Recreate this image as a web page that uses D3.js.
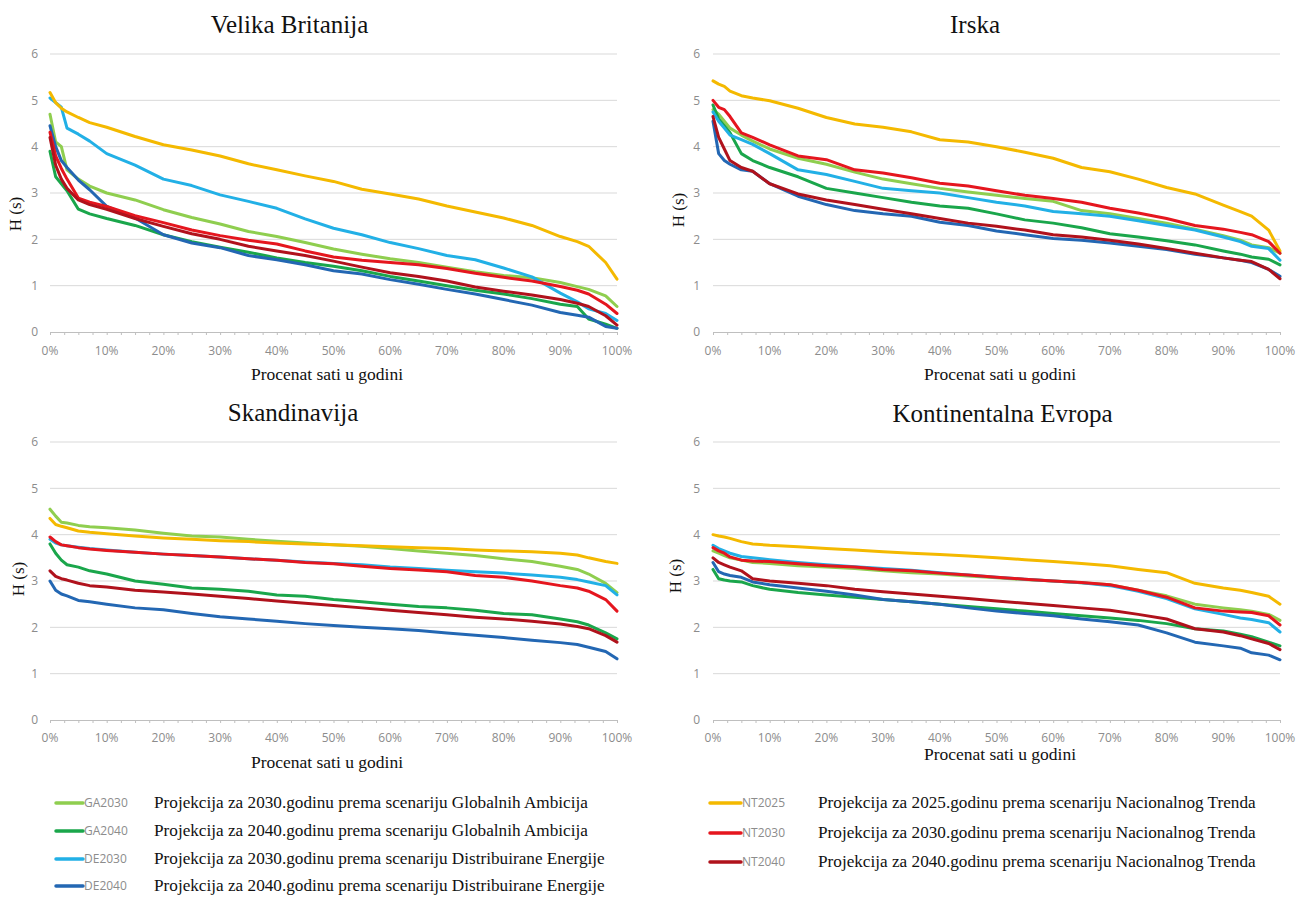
<!DOCTYPE html>
<html>
<head>
<meta charset="utf-8">
<script src="https://cdn.jsdelivr.net/npm/d3@7/dist/d3.min.js"></script>
<style>
  html, body { margin: 0; padding: 0; background: #ffffff; }
  svg { display: block; }
</style>
</head>
<body>
<svg id="chart" width="1297" height="897"></svg>
<script>
// ---------------- DATA ----------------
const xPct = [0,1,2,3,5,7,10,15,20,25,30,35,40,45,50,55,60,65,70,75,80,85,90,93,95,98,100];
const seriesNames = ["GA2030","GA2040","DE2030","DE2040","NT2025","NT2030","NT2040"];
const seriesDescriptions = [
  "Projekcija za 2030.godinu prema scenariju Globalnih Ambicija",
  "Projekcija za 2040.godinu prema scenariju Globalnih Ambicija",
  "Projekcija za 2030.godinu prema scenariju Distribuirane Energije",
  "Projekcija za 2040.godinu prema scenariju Distribuirane Energije",
  "Projekcija za 2025.godinu prema scenariju Nacionalnog Trenda",
  "Projekcija za 2030.godinu prema scenariju Nacionalnog Trenda",
  "Projekcija za 2040.godinu prema scenariju Nacionalnog Trenda"
];
const panelTitles = ["Velika Britanija","Irska","Skandinavija","Kontinentalna Evropa"];
const yTickValues = [0,1,2,3,4,5,6];
const xTickValues = [0,10,20,30,40,50,60,70,80,90,100];
const xAxisTitle = "Procenat sati u godini";
const yAxisTitle = "H (s)";

// Velika Britanija
const vbGA2030 = [4.7,4.1,4.0,3.5,3.3,3.15,3.0,2.85,2.64,2.47,2.33,2.17,2.06,1.93,1.79,1.68,1.58,1.5,1.4,1.3,1.22,1.17,1.07,0.98,0.92,0.78,0.55];
const vbGA2040 = [3.9,3.35,3.2,3.05,2.65,2.55,2.45,2.3,2.1,1.95,1.83,1.72,1.6,1.5,1.42,1.32,1.2,1.1,1.0,0.9,0.82,0.72,0.6,0.55,0.28,0.17,0.08];
const vbDE2030 = [5.05,4.95,4.85,4.4,4.27,4.12,3.85,3.6,3.3,3.16,2.96,2.82,2.67,2.44,2.24,2.1,1.93,1.8,1.65,1.56,1.38,1.19,0.84,0.65,0.5,0.4,0.25];
const vbDE2040 = [4.45,4.0,3.7,3.55,3.28,3.07,2.71,2.46,2.1,1.92,1.82,1.65,1.56,1.45,1.32,1.25,1.13,1.03,0.92,0.82,0.7,0.58,0.42,0.36,0.32,0.12,0.08];
const vbNT2025 = [5.17,4.95,4.83,4.75,4.63,4.52,4.42,4.22,4.04,3.93,3.8,3.63,3.5,3.37,3.25,3.08,2.98,2.87,2.72,2.59,2.46,2.3,2.06,1.95,1.85,1.5,1.14];
const vbNT2030 = [4.31,3.8,3.53,3.3,2.89,2.8,2.71,2.51,2.36,2.2,2.08,1.98,1.9,1.75,1.62,1.55,1.5,1.45,1.37,1.27,1.18,1.1,0.98,0.9,0.82,0.6,0.4];
const vbNT2040 = [4.2,3.6,3.3,3.1,2.85,2.75,2.65,2.45,2.28,2.12,2.0,1.85,1.75,1.65,1.53,1.4,1.28,1.2,1.1,0.97,0.88,0.8,0.7,0.62,0.55,0.35,0.15];

// Irska
const irGA2030 = [4.8,4.7,4.55,4.4,4.25,4.12,3.95,3.75,3.62,3.45,3.3,3.2,3.1,3.02,2.95,2.88,2.82,2.62,2.55,2.45,2.35,2.22,2.08,1.98,1.88,1.82,1.7];
const irGA2040 = [4.9,4.6,4.45,4.3,3.85,3.7,3.55,3.35,3.1,3.0,2.9,2.8,2.72,2.67,2.55,2.42,2.35,2.25,2.12,2.05,1.97,1.88,1.75,1.68,1.62,1.57,1.45];
const irDE2030 = [4.75,4.55,4.4,4.25,4.15,4.05,3.85,3.5,3.4,3.25,3.1,3.05,3.0,2.9,2.8,2.72,2.6,2.55,2.5,2.4,2.3,2.2,2.05,1.95,1.85,1.8,1.55];
const irDE2040 = [4.55,3.85,3.7,3.62,3.5,3.47,3.2,2.93,2.75,2.62,2.55,2.5,2.37,2.3,2.18,2.1,2.02,1.98,1.92,1.85,1.78,1.68,1.6,1.55,1.5,1.35,1.2];
const irNT2025 = [5.42,5.35,5.3,5.2,5.1,5.05,4.99,4.83,4.63,4.49,4.42,4.32,4.15,4.1,4.0,3.88,3.75,3.55,3.46,3.3,3.12,2.98,2.74,2.6,2.5,2.2,1.75];
const irNT2030 = [5.0,4.85,4.8,4.65,4.3,4.2,4.04,3.8,3.72,3.5,3.43,3.33,3.21,3.15,3.05,2.95,2.88,2.8,2.67,2.57,2.45,2.3,2.22,2.15,2.1,1.95,1.7];
const irNT2040 = [4.65,4.2,3.95,3.7,3.55,3.47,3.2,2.98,2.85,2.75,2.65,2.55,2.45,2.35,2.28,2.2,2.1,2.05,1.98,1.9,1.8,1.7,1.6,1.55,1.52,1.35,1.15];

// Skandinavija
const skGA2030 = [4.55,4.4,4.27,4.25,4.2,4.17,4.15,4.1,4.03,3.97,3.95,3.9,3.86,3.82,3.78,3.75,3.7,3.65,3.6,3.55,3.48,3.42,3.32,3.25,3.15,2.95,2.75];
const skGA2040 = [3.8,3.6,3.45,3.35,3.3,3.22,3.15,3.0,2.93,2.85,2.82,2.78,2.7,2.67,2.6,2.55,2.5,2.45,2.42,2.37,2.3,2.27,2.18,2.12,2.05,1.88,1.75];
const skDE2030 = [3.9,3.82,3.78,3.76,3.73,3.7,3.67,3.62,3.58,3.55,3.52,3.48,3.45,3.41,3.38,3.35,3.3,3.27,3.23,3.2,3.17,3.13,3.08,3.03,2.98,2.9,2.7];
const skDE2040 = [3.0,2.8,2.72,2.68,2.58,2.55,2.5,2.42,2.38,2.3,2.23,2.18,2.13,2.08,2.04,2.0,1.97,1.93,1.88,1.83,1.78,1.72,1.67,1.63,1.57,1.48,1.32];
const skNT2025 = [4.35,4.22,4.18,4.15,4.08,4.05,4.02,3.97,3.93,3.9,3.87,3.85,3.82,3.8,3.78,3.76,3.74,3.72,3.7,3.67,3.65,3.63,3.6,3.56,3.5,3.42,3.38];
const skNT2030 = [3.95,3.85,3.78,3.76,3.72,3.69,3.66,3.62,3.58,3.55,3.52,3.48,3.45,3.4,3.37,3.32,3.27,3.24,3.2,3.12,3.08,3.0,2.9,2.85,2.78,2.6,2.35];
const skNT2040 = [3.22,3.1,3.05,3.02,2.95,2.9,2.87,2.8,2.76,2.72,2.67,2.62,2.57,2.52,2.47,2.42,2.37,2.32,2.27,2.22,2.18,2.13,2.07,2.02,1.97,1.82,1.68];

// Kontinentalna Evropa
const keGA2030 = [3.65,3.6,3.55,3.5,3.45,3.4,3.38,3.33,3.3,3.27,3.22,3.18,3.15,3.11,3.07,3.03,3.0,2.96,2.92,2.8,2.68,2.5,2.42,2.38,2.35,2.28,2.15];
const keGA2040 = [3.25,3.05,3.02,3.0,2.98,2.9,2.82,2.75,2.7,2.65,2.6,2.55,2.5,2.45,2.4,2.35,2.3,2.25,2.2,2.15,2.08,1.97,1.92,1.85,1.8,1.68,1.6];
const keDE2030 = [3.77,3.7,3.65,3.6,3.53,3.5,3.46,3.4,3.35,3.31,3.27,3.23,3.18,3.13,3.08,3.04,3.0,2.96,2.9,2.78,2.62,2.4,2.28,2.2,2.17,2.1,1.9];
const keDE2040 = [3.4,3.2,3.15,3.12,3.08,2.98,2.92,2.85,2.78,2.7,2.6,2.55,2.5,2.42,2.35,2.3,2.25,2.18,2.12,2.05,1.88,1.68,1.6,1.55,1.45,1.4,1.3];
const keNT2025 = [4.0,3.97,3.95,3.92,3.85,3.8,3.77,3.74,3.7,3.67,3.63,3.6,3.57,3.54,3.5,3.46,3.42,3.38,3.33,3.25,3.18,2.95,2.85,2.8,2.75,2.67,2.5];
const keNT2030 = [3.72,3.65,3.6,3.52,3.45,3.43,3.42,3.37,3.33,3.3,3.25,3.22,3.17,3.13,3.08,3.04,3.0,2.97,2.92,2.8,2.65,2.42,2.35,2.33,2.32,2.25,2.05];
const keNT2040 = [3.5,3.4,3.35,3.3,3.22,3.05,3.0,2.95,2.9,2.82,2.77,2.72,2.67,2.62,2.57,2.52,2.47,2.42,2.37,2.28,2.18,1.97,1.9,1.82,1.75,1.65,1.52];

// ---------------- STYLE / LAYOUT ----------------
const seriesColors = {
  GA2030: "#8fce4f", GA2040: "#1aa64b", DE2030: "#22b0e6", DE2040: "#2367b3",
  NT2025: "#f4b900", NT2030: "#e5161e", NT2040: "#b0121c"
};
const panelValues = [
  [vbGA2030,vbGA2040,vbDE2030,vbDE2040,vbNT2025,vbNT2030,vbNT2040],
  [irGA2030,irGA2040,irDE2030,irDE2040,irNT2025,irNT2030,irNT2040],
  [skGA2030,skGA2040,skDE2030,skDE2040,skNT2025,skNT2030,skNT2040],
  [keGA2030,keGA2040,keDE2030,keDE2040,keNT2025,keNT2030,keNT2040]
];
const layout = [
  {left:50, right:617, top:54, bottom:332, tx:289.5, ty:33, xtx:327, xty:380, ytx:15, yty:214, ytickX:38, xtickY:355},
  {left:713, right:1280, top:54, bottom:332, tx:975, ty:33, xtx:1000, xty:380, ytx:678, yty:210, ytickX:700, xtickY:355},
  {left:50, right:617, top:442, bottom:720, tx:293, ty:421, xtx:327, xty:768, ytx:18, yty:579, ytickX:38, xtickY:742},
  {left:713, right:1280, top:442, bottom:720, tx:1002.5, ty:422, xtx:1000, xty:760, ytx:675, yty:576, ytickX:700, xtickY:742}
];

const svg = d3.select("#chart");
const serif = "'Liberation Serif', 'Times New Roman', serif";
const sans = "'Open Sans', 'Liberation Sans', sans-serif";

layout.forEach((L, pi) => {
  const g = svg.append("g");
  const x = d3.scaleLinear().domain([0,100]).range([L.left, L.right]);
  const y = d3.scaleLinear().domain([0,6]).range([L.bottom, L.top]);

  // gridlines
  g.selectAll(".grid").data(yTickValues.filter(v => v > 0)).enter().append("line")
    .attr("x1", L.left).attr("x2", L.right)
    .attr("y1", d => y(d)).attr("y2", d => y(d))
    .attr("stroke", "#d9d9d9").attr("stroke-width", 1);

  // x axis with minor ticks
  const ax = g.append("g").attr("transform", `translate(0,${y(0)})`)
    .call(d3.axisBottom(x).tickValues(d3.range(0, 100.01, 2.5)).tickSize(3).tickSizeOuter(0).tickFormat(""));
  ax.select(".domain").attr("stroke", "#bfbfbf");
  ax.selectAll(".tick line").attr("stroke", "#bfbfbf");

  // x tick labels
  g.selectAll(".xl").data(xTickValues).enter().append("text")
    .attr("x", d => x(d)).attr("y", L.xtickY)
    .attr("text-anchor", "middle")
    .attr("font-family", sans).attr("font-size", 12).attr("fill", "#8c8c8c")
    .text(d => d + "%");

  // y tick labels
  g.selectAll(".yl").data(yTickValues).enter().append("text")
    .attr("x", L.ytickX).attr("y", d => y(d)).attr("dy", "0.36em")
    .attr("text-anchor", "end")
    .attr("font-family", sans).attr("font-size", 12).attr("fill", "#8c8c8c")
    .text(d => d);

  // series lines
  const line = d3.line().x((d, i) => x(xPct[i])).y(d => y(d)).curve(d3.curveLinear);
  panelValues[pi].forEach((vals, si) => {
    g.append("path").datum(vals)
      .attr("d", line)
      .attr("fill", "none")
      .attr("stroke", seriesColors[seriesNames[si]])
      .attr("stroke-width", 3)
      .attr("stroke-linejoin", "round")
      .attr("stroke-linecap", "round");
  });

  // titles
  g.append("text").attr("x", L.tx).attr("y", L.ty).attr("text-anchor", "middle")
    .attr("font-family", serif).attr("font-size", 25).attr("fill", "#111")
    .text(panelTitles[pi]);
  g.append("text").attr("x", L.xtx).attr("y", L.xty).attr("text-anchor", "middle")
    .attr("font-family", serif).attr("font-size", 17.5).attr("fill", "#111")
    .text(xAxisTitle);
  g.append("text")
    .attr("transform", `translate(${L.ytx},${L.yty}) rotate(-90)`)
    .attr("text-anchor", "middle").attr("dy", "0.35em")
    .attr("font-family", serif).attr("font-size", 17).attr("fill", "#111")
    .text(yAxisTitle);
});

// ---------------- LEGENDS ----------------
const legendLeftRows = [803, 831, 859, 886];
const legendRightRows = [803, 833, 862];
function legendRow(idx, yPos, lx1, lx2, codeX, descX) {
  const name = seriesNames[idx];
  svg.append("line").attr("x1", lx1).attr("x2", lx2).attr("y1", yPos).attr("y2", yPos)
    .attr("stroke", seriesColors[name]).attr("stroke-width", 3.5).attr("stroke-linecap", "round");
  svg.append("text").attr("x", codeX).attr("y", yPos).attr("dy", "0.36em")
    .attr("font-family", sans).attr("font-size", 12).attr("fill", "#8c8c8c").text(name);
  svg.append("text").attr("x", descX).attr("y", yPos).attr("dy", "0.3em")
    .attr("font-family", serif).attr("font-size", 17.2).attr("fill", "#111").text(seriesDescriptions[idx]);
}
[0,1,2,3].forEach((s, i) => legendRow(s, legendLeftRows[i], 56, 83, 84, 154));
[4,5,6].forEach((s, i) => legendRow(s, legendRightRows[i], 710, 741, 742, 818));
</script>
</body>
</html>
